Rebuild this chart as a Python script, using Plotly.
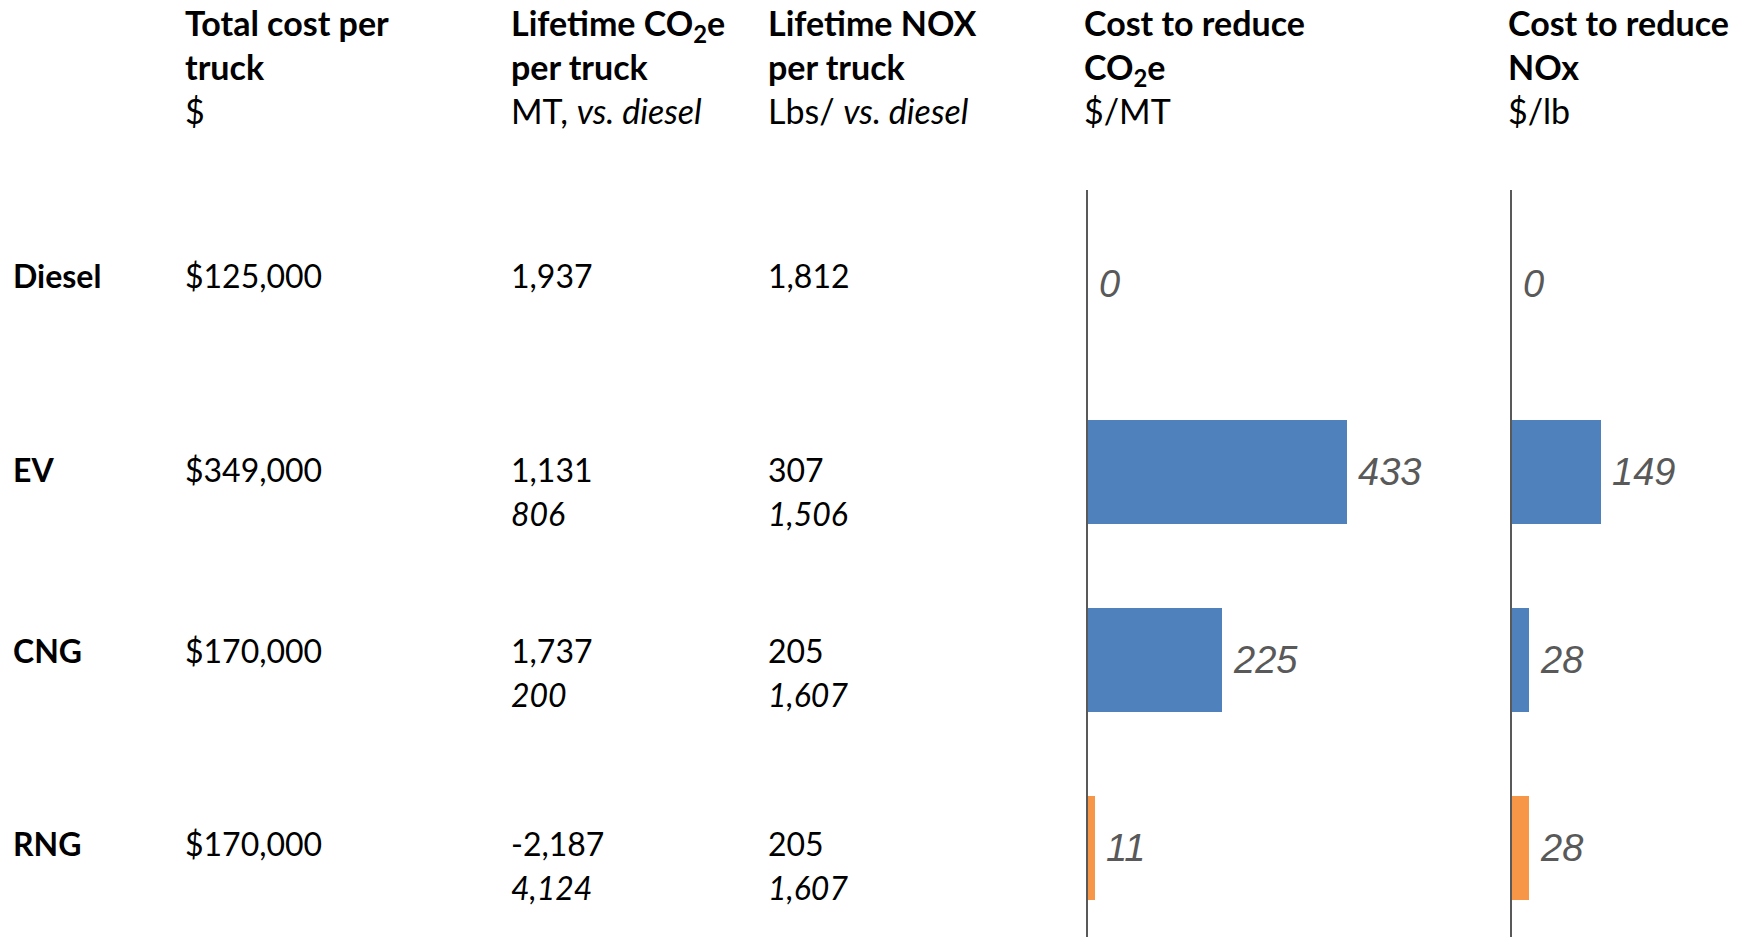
import plotly.graph_objects as go

# ---------------- data ----------------
vehicles = ["Diesel", "EV", "CNG", "RNG"]
total_cost = [125000, 349000, 170000, 170000]
co2_lifetime = [1937, 1131, 1737, -2187]
co2_vs_diesel = [None, 806, 200, 4124]
nox_lifetime = [1812, 307, 205, 205]
nox_vs_diesel = [None, 1506, 1607, 1607]
cost_reduce_co2 = [0, 433, 225, 11]
cost_reduce_nox = [0, 149, 28, 28]
bar_group = ["none", "conventional", "conventional", "renewable"]

headers = [
    ["Total cost per", "truck", "$"],
    ["Lifetime CO<sub>2</sub>e", "per truck", "MT, <i>vs. diesel</i>"],
    ["Lifetime NOX", "per truck", "Lbs/ <i>vs. diesel</i>"],
    ["Cost to reduce", "CO<sub>2</sub>e", "$/MT"],
    ["Cost to reduce", "NOx", "$/lb"],
]

# ---------------- style ----------------
W, H = 1748, 937
group_color = {"none": "rgba(0,0,0,0)", "conventional": "#4F81BD", "renewable": "#F79646"}
colors = [group_color[g] for g in bar_group]
px_per_unit = 0.597
top_px = 189.5
col_px = [11, 183, 509, 766, 1082, 1506]
panel1 = (1088, 1505)
panel2 = (1512, 1748)
row_shift = [-8, -2, -9, -4]
TXT = dict(family="Lato, Noto Sans, sans-serif", size=32, color="#000000")
LBL = dict(family="Liberation Sans, Arial, sans-serif", size=38, color="#595959")

fig = go.Figure()

ypos = list(range(len(vehicles)))
fig.add_trace(go.Bar(x=cost_reduce_co2, y=ypos, orientation="h", marker=dict(color=colors, line=dict(width=0)),
                     width=0.558, xaxis="x", yaxis="y", hoverinfo="skip"))
fig.add_trace(go.Bar(x=cost_reduce_nox, y=ypos, orientation="h", marker=dict(color=colors, line=dict(width=0)),
                     width=0.558, xaxis="x2", yaxis="y2", hoverinfo="skip"))

ann = []
for i, v in enumerate(vehicles):
    ann.append(dict(x=cost_reduce_co2[i], y=i, xref="x", yref="y", text=f"<i>{cost_reduce_co2[i]:,}</i>",
                    showarrow=False, xanchor="left", yanchor="middle", xshift=9, font=LBL))
    ann.append(dict(x=cost_reduce_nox[i], y=i, xref="x2", yref="y2", text=f"<i>{cost_reduce_nox[i]:,}</i>",
                    showarrow=False, xanchor="left", yanchor="middle", xshift=9, font=LBL))
    # table text
    first = [f"<b>{v}</b>", f"${total_cost[i]:,}", f"{co2_lifetime[i]:,}", f"{nox_lifetime[i]:,}"]
    for c, t in enumerate(first):
        ann.append(dict(x=col_px[c] / W, y=i, xref="paper", yref="y", text=t, showarrow=False,
                        xanchor="left", yanchor="middle", yshift=-row_shift[i], font=TXT))
    second = [co2_vs_diesel[i], nox_vs_diesel[i]]
    for c, t in zip([2, 3], second):
        if t is None:
            continue
        ann.append(dict(x=col_px[c] / W, y=i, xref="paper", yref="y", text=f"<i>{t:,}</i>", showarrow=False,
                        xanchor="left", yanchor="middle", yshift=-row_shift[i] - 44, font=TXT))

for c, lines in enumerate(headers):
    txt = f"<b>{lines[0]}</b><br><b>{lines[1]}</b><br>{lines[2]}"
    ann.append(dict(x=col_px[c + 1] / W, y=1, xref="paper", yref="paper", text=txt, showarrow=False,
                    xanchor="left", yanchor="top", align="left", yshift=0,
                    font=dict(family=TXT["family"], size=34, color="#000000")))

ydom = [0, 1 - top_px / H]
yrange = [-0.5 + (H - top_px) / 188.0, -0.5]
axis_common = dict(showgrid=False, zeroline=False, showticklabels=False, ticks="")

fig.update_layout(
    width=W, height=H, margin=dict(l=0, r=0, t=0, b=0),
    paper_bgcolor="white", plot_bgcolor="white", showlegend=False, bargap=0,
    xaxis=dict(domain=[panel1[0] / W, panel1[1] / W], range=[0, (panel1[1] - panel1[0]) / px_per_unit], **axis_common),
    xaxis2=dict(domain=[panel2[0] / W, panel2[1] / W], range=[0, (panel2[1] - panel2[0]) / px_per_unit], **axis_common),
    yaxis=dict(domain=ydom, range=yrange, anchor="x", showline=True, linecolor="#595959", linewidth=1.5, **axis_common),
    yaxis2=dict(domain=ydom, range=yrange, anchor="x2", showline=True, linecolor="#595959", linewidth=1.5, **axis_common),
    annotations=ann,
)

fig.write_html("out.html", config={"displayModeBar": False},
               post_script="document.body.style.margin='0';document.body.style.overflow='hidden';")
